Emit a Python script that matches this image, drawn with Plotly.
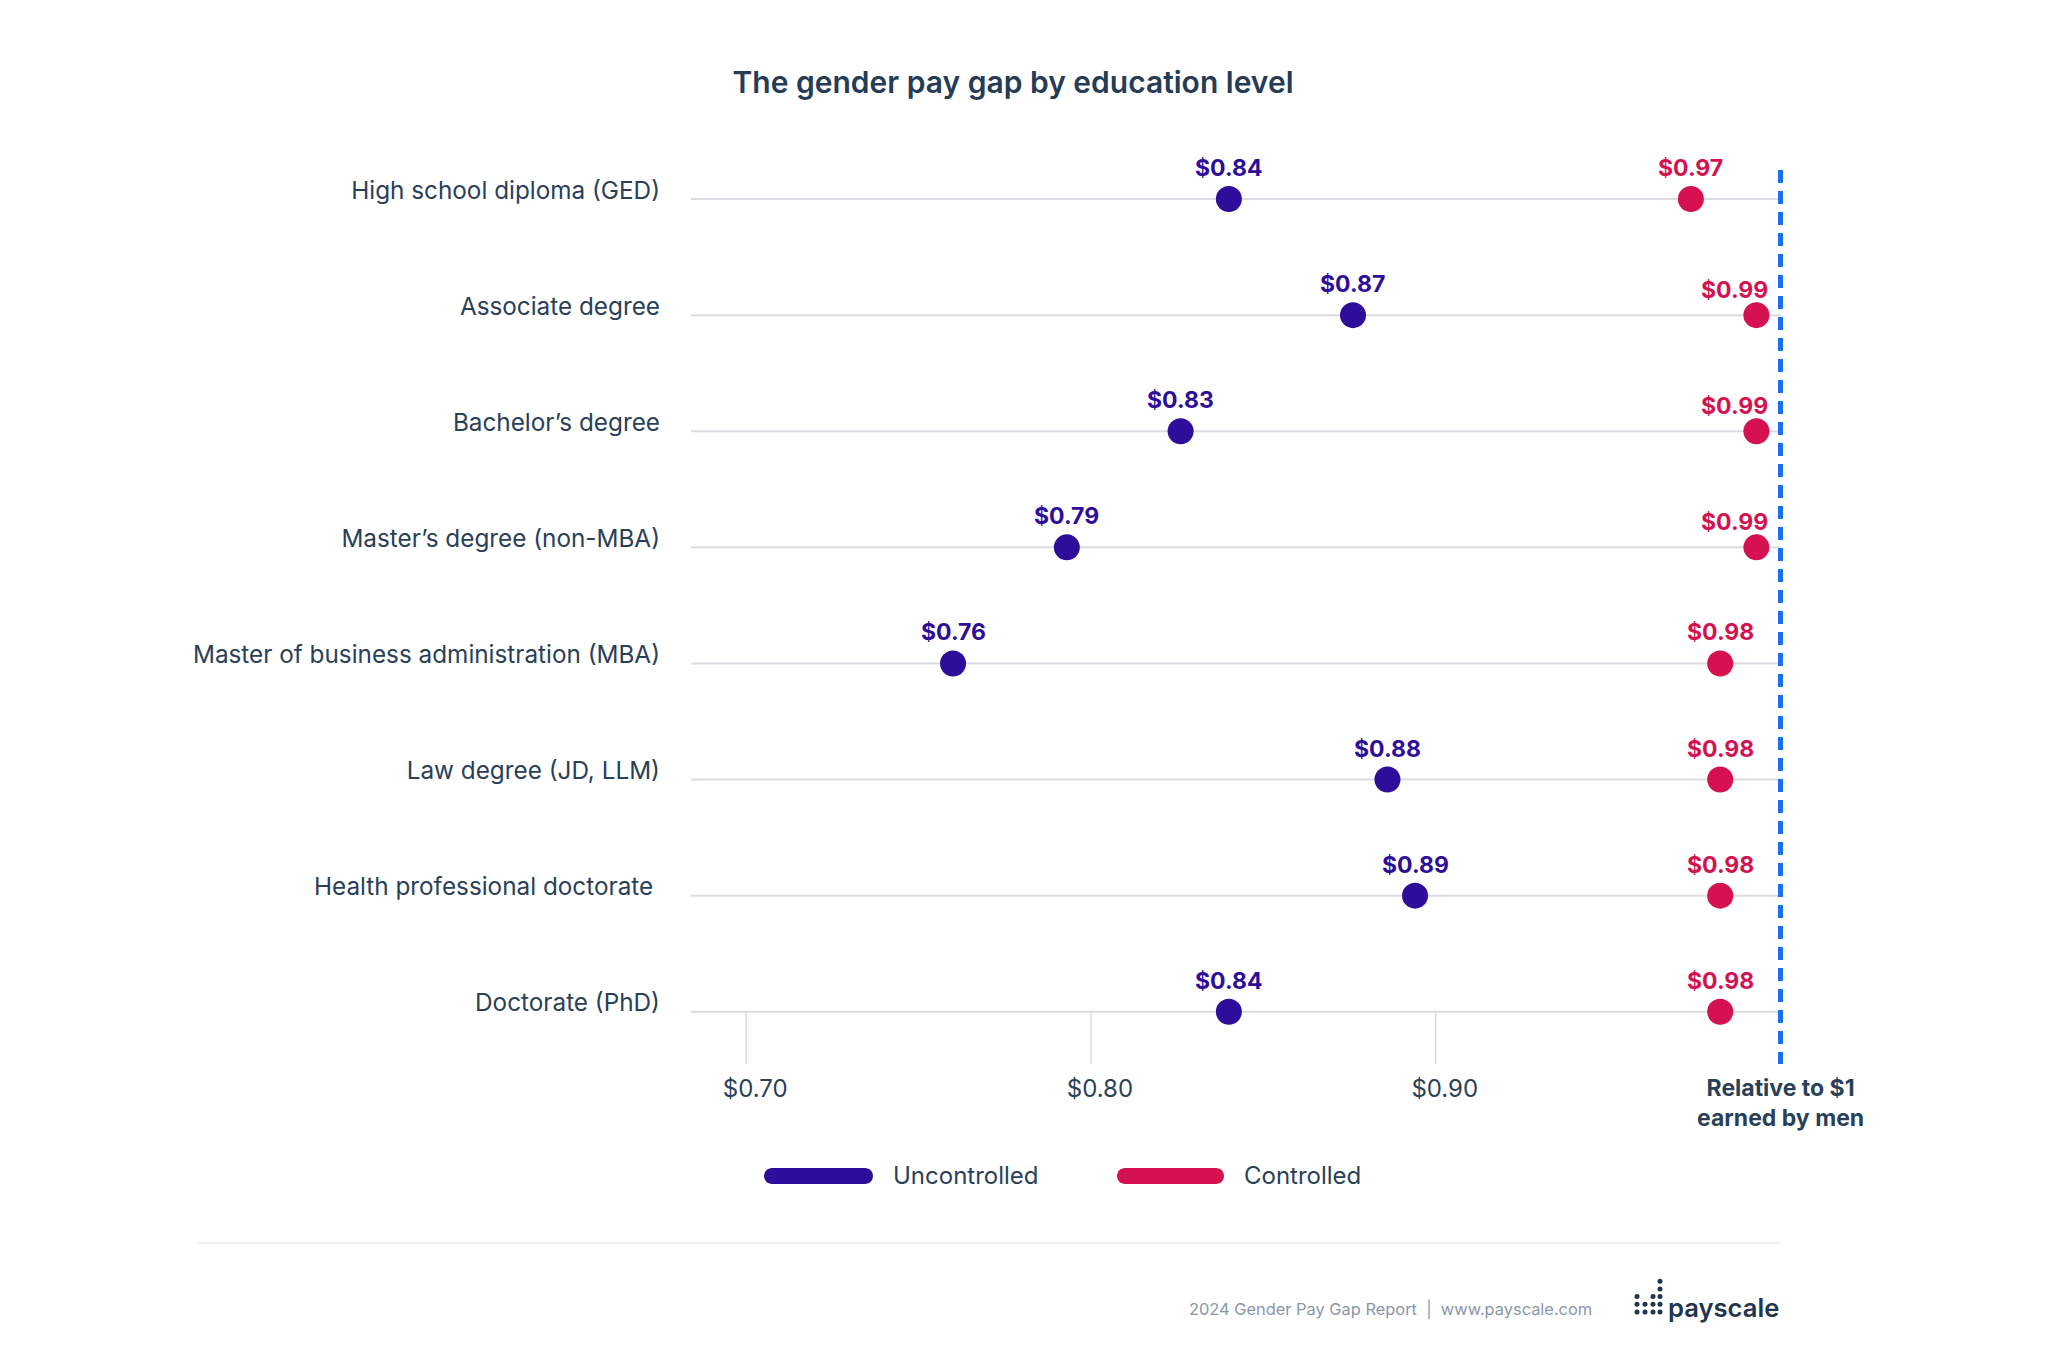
import plotly.graph_objects as go

# ---------------- data ----------------
categories = [
    "High school diploma (GED)",
    "Associate degree",
    "Bachelor\u2019s degree",
    "Master\u2019s degree (non-MBA)",
    "Master of business administration (MBA)",
    "Law degree (JD, LLM)",
    "Health professional doctorate ",
    "Doctorate (PhD)",
]
uncontrolled = [0.840, 0.876, 0.826, 0.793, 0.760, 0.886, 0.894, 0.840]
controlled = [0.974, 0.993, 0.993, 0.993, 0.9825, 0.9825, 0.9825, 0.9825]
uncontrolled_labels = ["$0.84", "$0.87", "$0.83", "$0.79", "$0.76", "$0.88", "$0.89", "$0.84"]
controlled_labels = ["$0.97", "$0.99", "$0.99", "$0.99", "$0.98", "$0.98", "$0.98", "$0.98"]
tick_values = [0.70, 0.80, 0.90]
tick_labels = ["$0.70", "$0.80", "$0.90"]
reference_value = 1.0
series_names = ["Uncontrolled", "Controlled"]

# ---------------- style ----------------
W, H = 2048, 1351
ML, MR, MT, MB = 691, 233, 170, 287
PW, PH = W - ML - MR, H - MT - MB
FONT = "Inter"
DARK = "#2a3f58"
PURPLE = "#2e0d9a"
RED = "#d51150"
BLUE = "#1b6ff5"
GRID = "#dadce1"
LOGO = "#1f3550"
XMIN, XMAX = 0.684, 1.01
YTOP, YBOT = -0.25, 7.45


def px_x(px):
    return (px - ML) / PW


def px_y(py):
    return (MT + PH - py) / PH


fig = go.Figure()

# markers
fig.add_trace(go.Scatter(
    x=uncontrolled, y=categories, mode="markers", name=series_names[0],
    marker=dict(size=26, color=PURPLE), showlegend=False, cliponaxis=False,
))
fig.add_trace(go.Scatter(
    x=controlled, y=categories, mode="markers", name=series_names[1],
    marker=dict(size=26, color=RED), showlegend=False, cliponaxis=False,
))

shapes = []
annotations = []

# row lines
for c in categories:
    shapes.append(dict(type="line", xref="x", yref="y", x0=XMIN, x1=reference_value,
                       y0=c, y1=c, line=dict(color=GRID, width=2), layer="below"))

# tick stubs below last row
for tv in tick_values:
    shapes.append(dict(type="line", xref="x", yref="y", x0=tv, x1=tv,
                       y0=len(categories) - 1, y1=YBOT,
                       line=dict(color=GRID, width=1.5), layer="below"))

# dashed reference line
shapes.append(dict(type="line", xref="x", yref="y", x0=reference_value, x1=reference_value,
                   y0=YTOP, y1=YBOT, line=dict(color=BLUE, width=5, dash="13px,8px")))

# data labels
for c, v, t in zip(categories, uncontrolled, uncontrolled_labels):
    annotations.append(dict(x=v, y=c, xref="x", yref="y", text=t, showarrow=False,
                            yshift=31, yanchor="middle",
                            font=dict(family=FONT, size=23, color=PURPLE, weight=700)))
for c, v, t in zip(categories, controlled, controlled_labels):
    near = v > 0.99
    annotations.append(dict(x=v, y=c, xref="x", yref="y", text=t, showarrow=False,
                            yshift=25 if near else 31, xshift=-22 if near else 0,
                            yanchor="middle",
                            font=dict(family=FONT, size=23, color=RED, weight=700)))

# reference label
annotations.append(dict(x=reference_value, y=px_y(1103), xref="x", yref="paper",
                        text="Relative to $1<br>earned by men", showarrow=False,
                        xanchor="center", yanchor="middle", align="center",
                        font=dict(family=FONT, size=23, color=DARK, weight=700)))


# custom legend
def pill(x0, x1, yc, h, color):
    r = h / 2
    k = 0.5523 * r

    def P(x, y):
        return f"{px_x(x):.6f},{px_y(y):.6f}"
    path = (f"M {P(x0 + r, yc - r)} L {P(x1 - r, yc - r)} "
            f"C {P(x1 - r + k, yc - r)} {P(x1, yc - k)} {P(x1, yc)} "
            f"C {P(x1, yc + k)} {P(x1 - r + k, yc + r)} {P(x1 - r, yc + r)} "
            f"L {P(x0 + r, yc + r)} "
            f"C {P(x0 + r - k, yc + r)} {P(x0, yc + k)} {P(x0, yc)} "
            f"C {P(x0, yc - k)} {P(x0 + r - k, yc - r)} {P(x0 + r, yc - r)} Z")
    return dict(type="path", xref="paper", yref="paper", path=path,
                fillcolor=color, line=dict(width=0))


shapes.append(pill(764, 873, 1176, 16, PURPLE))
shapes.append(pill(1117, 1224, 1176, 16, RED))
annotations.append(dict(x=px_x(891), y=px_y(1175), xref="paper", yref="paper",
                        text=series_names[0], showarrow=False, xanchor="left", yanchor="middle",
                        font=dict(family=FONT, size=24, color=DARK)))
annotations.append(dict(x=px_x(1242), y=px_y(1175), xref="paper", yref="paper",
                        text=series_names[1], showarrow=False, xanchor="left", yanchor="middle",
                        font=dict(family=FONT, size=24, color=DARK)))

# footer rule
shapes.append(dict(type="line", xref="paper", yref="paper", x0=px_x(198), x1=px_x(1780),
                   y0=px_y(1243), y1=px_y(1243), line=dict(color="#e6e8ec", width=1.5)))

# footer text
annotations.append(dict(x=px_x(1594), y=px_y(1309), xref="paper", yref="paper",
                        text="2024 Gender Pay Gap Report  |  www.payscale.com",
                        showarrow=False, xanchor="right", yanchor="middle",
                        font=dict(family=FONT, size=16.4, color="#8a96a8")))
annotations.append(dict(x=px_x(1781), y=px_y(1307), xref="paper", yref="paper",
                        text="payscale", showarrow=False, xanchor="right", yanchor="middle",
                        font=dict(family=FONT, size=25.6, color=LOGO, weight=600)))

# logo dots
col_x = [1637, 1645, 1653, 1660]
col_n = [3, 2, 3, 5]
for cx, n in zip(col_x, col_n):
    for i in range(n):
        cy = 1312 - 7.7 * i
        rr = 2.5
        shapes.append(dict(type="circle", xref="paper", yref="paper",
                           x0=px_x(cx - rr), x1=px_x(cx + rr),
                           y0=px_y(cy + rr), y1=px_y(cy - rr),
                           fillcolor=LOGO, line=dict(width=0)))

fig.update_layout(
    width=W, height=H,
    margin=dict(l=ML, r=MR, t=MT, b=MB, autoexpand=False),
    paper_bgcolor="white", plot_bgcolor="white",
    showlegend=False,
    title=dict(text="The gender pay gap by education level",
               x=1013 / W, y=1 - 82 / H, xanchor="center", yanchor="middle",
               font=dict(family=FONT, size=30, color="#263c56", weight=600)),
    xaxis=dict(range=[XMIN, XMAX], tickvals=tick_values, ticktext=tick_labels,
               showgrid=False, zeroline=False, showline=False, ticks="",
               ticklabelstandoff=8, ticklabelshift=9, automargin=False,
               tickfont=dict(family=FONT, size=24, color=DARK)),
    yaxis=dict(type="category", categoryarray=categories, range=[YBOT, YTOP],
               showgrid=False, zeroline=False, showline=False, ticks="",
               ticklabelstandoff=30, ticklabelshift=9, automargin=False,
               tickfont=dict(family=FONT, size=24.3, color=DARK)),
    shapes=shapes, annotations=annotations,
)

fig.write_html("out.html", config={"displayModeBar": False},
               post_script="document.body.style.margin='0';")
